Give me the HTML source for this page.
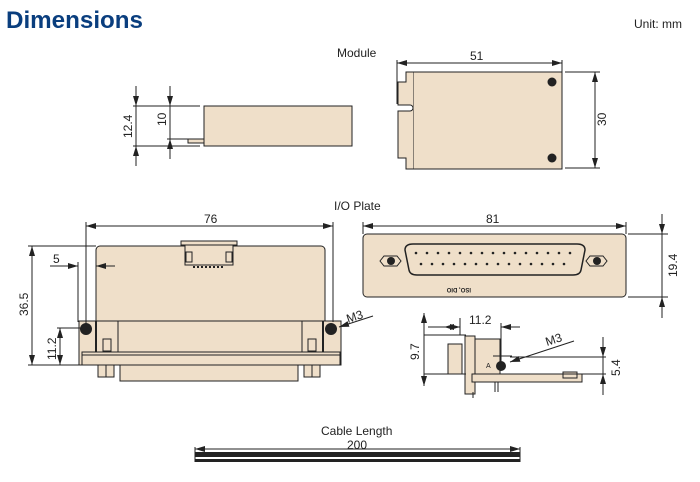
<!DOCTYPE html>
<html><head><meta charset="utf-8"><style>
body{margin:0;background:#fff}
svg{display:block}
text{font-family:"Liberation Sans",sans-serif;fill:#222}
</style></head><body>
<svg width="700" height="482" viewBox="0 0 700 482" xmlns="http://www.w3.org/2000/svg">
<defs>
<marker id="a" viewBox="0 0 10 6" refX="10" refY="3" markerWidth="10" markerHeight="6" orient="auto-start-reverse" markerUnits="userSpaceOnUse"><path d="M0,0L10,3L0,6z" fill="#222"/></marker>
</defs>
<text x="6" y="28" textLength="137" lengthAdjust="spacingAndGlyphs" style="font-size:24px;font-weight:bold;fill:#0a3e7e">Dimensions</text>
<text x="634" y="28" style="font-size:12px">Unit: mm</text>

<g stroke="#222" stroke-width="1" fill="none">
<rect x="204" y="106" width="148" height="40" fill="#efdfc9"/>
<rect x="188" y="139" width="16" height="4" fill="#efdfc9"/>
<line x1="133" y1="106" x2="200" y2="106"/><line x1="133" y1="146" x2="200" y2="146"/>
<line x1="167" y1="139" x2="200" y2="139"/>
<line x1="136" y1="86" x2="136" y2="106" marker-end="url(#a)"/><line x1="136" y1="166" x2="136" y2="146" marker-end="url(#a)"/>
<line x1="136" y1="106" x2="136" y2="146"/>
<line x1="170" y1="86" x2="170" y2="106" marker-end="url(#a)"/><line x1="170" y1="159" x2="170" y2="139" marker-end="url(#a)"/>
<line x1="170" y1="106" x2="170" y2="139"/>

<rect x="413" y="72" width="149" height="97" fill="#efdfc9"/>
<path d="M413,72H406V82H398V105H410a3,3 0 0 1 0,6H398V158H406V169H413" fill="#efdfc9"/>
<line x1="397" y1="60" x2="397" y2="104"/><line x1="562" y1="60" x2="562" y2="72"/>
<line x1="397" y1="63" x2="562" y2="63" marker-start="url(#a)" marker-end="url(#a)"/>
<line x1="565" y1="72" x2="600" y2="72"/><line x1="565" y1="168" x2="600" y2="168"/>
<line x1="595" y1="72" x2="595" y2="168" marker-start="url(#a)" marker-end="url(#a)"/>

<path d="M96,355V250a4,4 0 0 1 4,-4H321a4,4 0 0 1 4,4V355z" fill="#efdfc9"/>
<rect x="79" y="321" width="262" height="44" fill="#efdfc9"/>
<line x1="96" y1="321" x2="96" y2="352" stroke-width="2"/><line x1="323" y1="321" x2="323" y2="352" stroke-width="2"/>
<line x1="96" y1="321" x2="323" y2="321"/>
<line x1="118" y1="321" x2="118" y2="352"/><line x1="302" y1="321" x2="302" y2="352"/>
<rect x="103" y="339" width="8" height="12"/><rect x="308" y="339" width="8" height="12"/>
<rect x="82" y="352" width="258" height="13" fill="#efdfc9"/>
<line x1="82" y1="355" x2="340" y2="355"/>
<rect x="120" y="365" width="178" height="16" fill="#efdfc9"/>
<rect x="98" y="365" width="16" height="12" fill="#efdfc9"/><rect x="304" y="365" width="16" height="12" fill="#efdfc9"/>
<line x1="106" y1="365" x2="106" y2="377"/><line x1="312" y1="365" x2="312" y2="377"/>
<rect x="181" y="241" width="56" height="4" fill="#efdfc9"/>
<rect x="185" y="245" width="48" height="20" fill="#efdfc9"/>
<rect x="186" y="252" width="6" height="10"/><rect x="226" y="252" width="6" height="10"/>
<line x1="193" y1="267" x2="225" y2="267" stroke-dasharray="2,2" stroke-width="2"/>
<line x1="86" y1="222" x2="86" y2="330"/><line x1="333" y1="222" x2="333" y2="322"/>
<line x1="86" y1="226" x2="333" y2="226" marker-start="url(#a)" marker-end="url(#a)"/>
<line x1="28" y1="246" x2="96" y2="246"/><line x1="28" y1="365" x2="82" y2="365"/>
<line x1="32" y1="246" x2="32" y2="365" marker-start="url(#a)" marker-end="url(#a)"/>
<line x1="57" y1="328" x2="84" y2="328"/>
<line x1="60" y1="328" x2="60" y2="365" marker-start="url(#a)" marker-end="url(#a)"/>
<line x1="78" y1="262" x2="78" y2="322"/>
<line x1="50" y1="266" x2="78" y2="266" marker-end="url(#a)"/><line x1="115" y1="266" x2="96" y2="266" marker-end="url(#a)"/>
<line x1="373" y1="316" x2="339" y2="327" marker-end="url(#a)"/>

<rect x="363" y="234" width="263" height="63" rx="4" fill="#efdfc9"/>
<path d="M405,250q0,-6 8,-6H577q8,0 8,6L581,270q-1,5 -8,5H417q-7,0 -8,-5z" fill="#efdfc9" stroke-width="1.5"/>
<path d="M384,256h13l4,5l-4,5h-13l-4,-5z" fill="#efdfc9"/><path d="M590,256h13l4,5l-4,5h-13l-4,-5z" fill="#efdfc9"/>
<line x1="363" y1="222" x2="363" y2="234"/><line x1="626" y1="222" x2="626" y2="234"/>
<line x1="363" y1="226" x2="626" y2="226" marker-start="url(#a)" marker-end="url(#a)"/>
<line x1="628" y1="234" x2="668" y2="234"/><line x1="628" y1="297" x2="668" y2="297"/>
<line x1="662" y1="214" x2="662" y2="234" marker-end="url(#a)"/><line x1="662" y1="318" x2="662" y2="297" marker-end="url(#a)"/>
<line x1="662" y1="234" x2="662" y2="297"/>

<rect x="448" y="344" width="14" height="30" fill="#efdfc9"/>
<rect x="465" y="336" width="10" height="58" fill="#efdfc9"/>
<rect x="475" y="339" width="25" height="35" fill="#efdfc9"/>
<rect x="472" y="374" width="110" height="8" fill="#efdfc9"/>
<rect x="563" y="372" width="14" height="6" fill="#efdfc9"/>
<line x1="493" y1="356" x2="512" y2="356"/>
<line x1="473" y1="392" x2="473" y2="398"/><line x1="495" y1="382" x2="495" y2="392"/><line x1="498" y1="382" x2="498" y2="392"/>
<line x1="444" y1="335" x2="465" y2="335"/>
<line x1="460" y1="318" x2="460" y2="335"/>
<line x1="444" y1="327" x2="460" y2="327" marker-start="url(#a)" marker-end="url(#a)" />
<line x1="428" y1="327" x2="444" y2="327"/>
<line x1="501" y1="323" x2="501" y2="366"/>
<line x1="501" y1="327" x2="520" y2="327" marker-start="url(#a)"/>
<line x1="424" y1="335" x2="466" y2="335"/><line x1="424" y1="374" x2="466" y2="374"/>
<line x1="424" y1="313" x2="424" y2="386" marker-start="url(#a)" marker-end="url(#a)"/>
<line x1="510" y1="357" x2="606" y2="357"/><line x1="510" y1="374" x2="606" y2="374"/>
<line x1="603" y1="337" x2="603" y2="357" marker-end="url(#a)"/><line x1="603" y1="395" x2="603" y2="374" marker-end="url(#a)"/>
<line x1="603" y1="357" x2="603" y2="374"/>
<line x1="574" y1="341" x2="510" y2="362" marker-end="url(#a)"/>

<line x1="195" y1="447" x2="195" y2="462"/><line x1="520" y1="447" x2="520" y2="462"/>
<line x1="195" y1="449" x2="520" y2="449" marker-start="url(#a)" marker-end="url(#a)"/>
</g>
<g fill="#222">
<circle cx="552" cy="82" r="4.5"/><circle cx="552" cy="158" r="4.5"/>
<circle cx="86" cy="329" r="6"/><circle cx="331" cy="329" r="6"/>
<circle cx="391" cy="261" r="4"/><circle cx="597" cy="261" r="4"/>
<circle cx="501" cy="366" r="5"/>
<rect x="195" y="452" width="325" height="5"/><rect x="195" y="459" width="325" height="3"/>
</g>
<g fill="#222">
<circle cx="416" cy="253" r="1.3"/><circle cx="427" cy="253" r="1.3"/><circle cx="438" cy="253" r="1.3"/><circle cx="449" cy="253" r="1.3"/><circle cx="460" cy="253" r="1.3"/><circle cx="471" cy="253" r="1.3"/><circle cx="482" cy="253" r="1.3"/><circle cx="493" cy="253" r="1.3"/><circle cx="504" cy="253" r="1.3"/><circle cx="515" cy="253" r="1.3"/><circle cx="526" cy="253" r="1.3"/><circle cx="537" cy="253" r="1.3"/><circle cx="548" cy="253" r="1.3"/><circle cx="559" cy="253" r="1.3"/><circle cx="570" cy="253" r="1.3"/>
<circle cx="421" cy="264" r="1.3"/><circle cx="432" cy="264" r="1.3"/><circle cx="443" cy="264" r="1.3"/><circle cx="454" cy="264" r="1.3"/><circle cx="465" cy="264" r="1.3"/><circle cx="476" cy="264" r="1.3"/><circle cx="487" cy="264" r="1.3"/><circle cx="498" cy="264" r="1.3"/><circle cx="509" cy="264" r="1.3"/><circle cx="520" cy="264" r="1.3"/><circle cx="531" cy="264" r="1.3"/><circle cx="542" cy="264" r="1.3"/><circle cx="553" cy="264" r="1.3"/><circle cx="564" cy="264" r="1.3"/>
</g>
<g style="font-size:12px">
<text x="337" y="57">Module</text>
<text x="470" y="60">51</text>
<text x="606" y="126" transform="rotate(-90 606 126)">30</text>
<text x="132" y="138" transform="rotate(-90 132 138)">12.4</text>
<text x="166" y="126" transform="rotate(-90 166 126)">10</text>
<text x="334" y="210">I/O Plate</text>
<text x="204" y="223">76</text>
<text x="486" y="223">81</text>
<text x="677" y="277" transform="rotate(-90 677 277)">19.4</text>
<text x="28" y="316" transform="rotate(-90 28 316)">36.5</text>
<text x="56" y="360" transform="rotate(-90 56 360)">11.2</text>
<text x="53" y="263">5</text>
<text x="348" y="323" transform="rotate(-18 348 323)">M3</text>
<text x="469" y="324">11.2</text>
<text x="419" y="360" transform="rotate(-90 419 360)">9.7</text>
<text x="547" y="346" transform="rotate(-18 547 346)">M3</text>
<text x="620" y="376" transform="rotate(-90 620 376)">5.4</text>
<text x="321" y="435">Cable Length</text>
<text x="347" y="449">200</text>
</g>
<text x="489" y="284" style="font-size:6px;font-weight:bold" transform="rotate(180 480 286)">ISO, DIO</text>
<text x="486" y="368" style="font-size:7px">A</text>
</svg>
</body></html>
